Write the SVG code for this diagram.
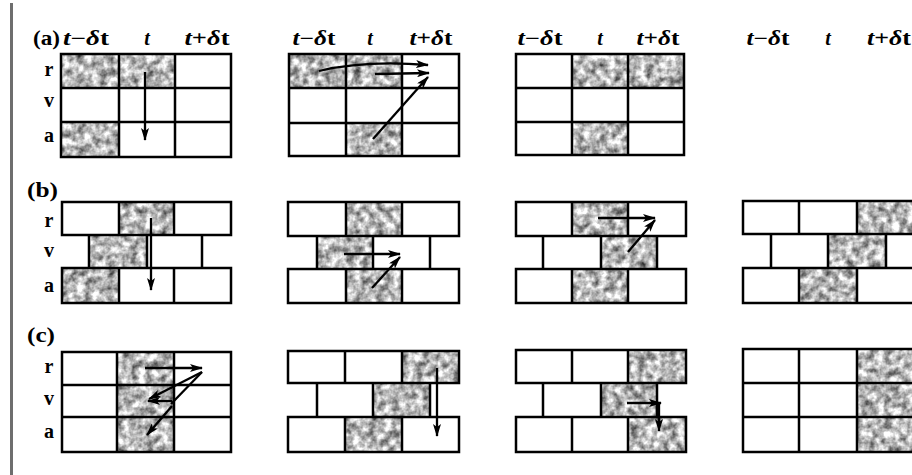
<svg xmlns="http://www.w3.org/2000/svg" width="912" height="475" viewBox="0 0 912 475">
<style>
.g{stroke:#000;stroke-width:2.5;fill:none;stroke-linecap:square}
.s{filter:url(#mottle)}
.h{font-family:"Liberation Serif",serif;font-size:20px;font-weight:bold;fill:#000;text-anchor:middle}
.l{font-family:"Liberation Serif",serif;font-size:20px;font-weight:bold;fill:#000}
.ar{stroke:#000;stroke-width:2.3;fill:none;marker-end:url(#ah)}
.ln{stroke:#000;stroke-width:2.3;fill:none}
</style>
<defs>
<filter id="mottle" x="0" y="0" width="100%" height="100%" color-interpolation-filters="sRGB">
<feTurbulence type="fractalNoise" baseFrequency="0.13" numOctaves="3" seed="4" result="n"/>
<feColorMatrix in="n" type="matrix" values="1.25 0 0 0 0.1  1.25 0 0 0 0.1  1.25 0 0 0 0.1  0 0 0 0 1"/>
</filter>
<marker id="ah" markerUnits="userSpaceOnUse" markerWidth="13" markerHeight="8" refX="12" refY="4" orient="auto">
<path d="M0,0 L13,4 L0,8 L3,4 z" fill="#000"/>
</marker>
</defs>
<rect width="912" height="475" fill="#fff"/>
<rect x="10" y="3" width="3" height="472" fill="#6e6e6e"/>

<g id="headers">
<text class="l" x="33" y="45" textLength="27" lengthAdjust="spacingAndGlyphs">(a)</text>
<text class="h" x="86" y="45" textLength="46" lengthAdjust="spacingAndGlyphs"><tspan font-style="italic">t</tspan>−<tspan font-style="italic">δ</tspan>t</text>
<text class="h" x="147" y="45" font-style="italic">t</text>
<text class="h" x="207" y="45" textLength="45" lengthAdjust="spacingAndGlyphs"><tspan font-style="italic">t</tspan>+<tspan font-style="italic">δ</tspan>t</text>
<text class="h" x="314" y="45" textLength="43" lengthAdjust="spacingAndGlyphs"><tspan font-style="italic">t</tspan>−<tspan font-style="italic">δ</tspan>t</text>
<text class="h" x="370" y="45" font-style="italic">t</text>
<text class="h" x="431" y="45" textLength="43" lengthAdjust="spacingAndGlyphs"><tspan font-style="italic">t</tspan>+<tspan font-style="italic">δ</tspan>t</text>
<text class="h" x="540" y="45" textLength="45" lengthAdjust="spacingAndGlyphs"><tspan font-style="italic">t</tspan>−<tspan font-style="italic">δ</tspan>t</text>
<text class="h" x="600" y="45" font-style="italic">t</text>
<text class="h" x="658" y="45" textLength="43" lengthAdjust="spacingAndGlyphs"><tspan font-style="italic">t</tspan>+<tspan font-style="italic">δ</tspan>t</text>
<text class="h" x="768" y="45" textLength="43" lengthAdjust="spacingAndGlyphs"><tspan font-style="italic">t</tspan>−<tspan font-style="italic">δ</tspan>t</text>
<text class="h" x="828" y="45" font-style="italic">t</text>
<text class="h" x="889" y="45" textLength="44" lengthAdjust="spacingAndGlyphs"><tspan font-style="italic">t</tspan>+<tspan font-style="italic">δ</tspan>t</text>
<text class="l" x="27" y="197" textLength="31" lengthAdjust="spacingAndGlyphs">(b)</text>
<text class="l" x="27" y="342" textLength="28" lengthAdjust="spacingAndGlyphs">(c)</text>
</g>

<g id="rowlabels">
<text class="h" x="49" y="76">r</text><text class="h" x="49" y="107">v</text><text class="h" x="49" y="142">a</text>
<text class="h" x="49" y="227">r</text><text class="h" x="49" y="257">v</text><text class="h" x="49" y="292">a</text>
<text class="h" x="49" y="373">r</text><text class="h" x="49" y="405">v</text><text class="h" x="49" y="438">a</text>
</g>

<g id="grid-a1">
<rect class="s" x="61" y="54" width="58" height="34"/>
<rect class="s" x="119" y="54" width="56" height="34"/>
<rect class="s" x="61" y="122" width="58" height="35"/>
<path class="g" d="M61,54H231V157H61Z M61,88H231 M61,122H231 M119,54V157 M175,54V157"/>
</g>
<g id="grid-a2">
<rect class="s" x="289" y="54" width="57" height="34"/>
<rect class="s" x="346" y="54" width="56" height="34"/>
<rect class="s" x="346" y="123" width="56" height="33"/>
<path class="g" d="M289,54H459V156H289Z M289,88H459 M289,123H459 M346,54V156 M402,54V156"/>
</g>
<g id="grid-a3">
<rect class="s" x="572" y="54" width="56" height="34"/>
<rect class="s" x="628" y="54" width="56" height="34"/>
<rect class="s" x="572" y="122" width="56" height="33"/>
<path class="g" d="M516,54H684V155H516Z M516,88H684 M516,122H684 M572,54V155 M628,54V155"/>
</g>

<g id="grid-b1">
<rect class="s" x="119" y="202" width="55" height="33"/>
<rect class="s" x="89" y="235" width="58" height="33"/>
<rect class="s" x="62" y="268" width="57" height="35"/>
<path class="g" d="M62,202H231V235H62Z M62,268H231V303H62Z M119,202V235 M174,202V235 M119,268V303 M174,268V303 M89,235V268 M147,235V268 M202,235V268"/>
</g>
<g id="grid-b2">
<rect class="s" x="346" y="202" width="56" height="34"/>
<rect class="s" x="317" y="236" width="56" height="33"/>
<rect class="s" x="346" y="269" width="56" height="34"/>
<path class="g" d="M288,202H459V236H288Z M288,269H459V303H288Z M346,202V236 M402,202V236 M346,269V303 M402,269V303 M317,236V269 M373,236V269 M430,236V269"/>
</g>
<g id="grid-b3">
<rect class="s" x="572" y="202" width="56" height="34"/>
<rect class="s" x="601" y="236" width="56" height="33"/>
<rect class="s" x="572" y="269" width="56" height="34"/>
<path class="g" d="M516,202H686V236H516Z M516,269H686V303H516Z M572,202V236 M628,202V236 M572,269V303 M628,269V303 M543,236V269 M601,236V269 M657,236V269"/>
</g>
<g id="grid-b4">
<rect class="s" x="857" y="201" width="58" height="33"/>
<rect class="s" x="828" y="234" width="58" height="34"/>
<rect class="s" x="799" y="268" width="58" height="35"/>
<path class="g" d="M916,201H743V234H916 M916,268H743V303H916 M799,201V234 M857,201V234 M799,268V303 M857,268V303 M771,234V268 M828,234V268 M886,234V268"/>
</g>

<g id="grid-c1">
<rect class="s" x="117" y="352" width="57" height="100"/>
<path class="g" d="M62,352H231V452H62Z M62,385H231 M62,417H231 M117,352V452 M174,352V452"/>
</g>
<g id="grid-c2">
<rect class="s" x="402" y="351" width="57" height="32"/>
<rect class="s" x="373" y="383" width="57" height="34"/>
<rect class="s" x="345" y="417" width="57" height="35"/>
<path class="g" d="M288,351H459V383H288Z M288,417H459V452H288Z M345,351V383 M402,351V383 M345,417V452 M402,417V452 M317,383V417 M373,383V417 M430,383V417"/>
</g>
<g id="grid-c3">
<rect class="s" x="628" y="350" width="58" height="33"/>
<rect class="s" x="601" y="383" width="56" height="34"/>
<rect class="s" x="628" y="417" width="58" height="35"/>
<path class="g" d="M516,350H686V383H516Z M516,417H686V452H516Z M572,350V383 M628,350V383 M572,417V452 M628,417V452 M543,383V417 M601,383V417 M657,383V417"/>
</g>
<g id="grid-c4">
<rect class="s" x="857" y="349" width="58" height="103"/>
<path class="g" d="M916,349H743V452H916 M743,383H916 M743,417H916 M799,349V452 M857,349V452"/>
</g>

<g id="connectors">
<path class="ar" d="M145,72V140"/>
<path class="ar" d="M319,71Q365,60 428,65"/>
<path class="ar" d="M375,74L429,73"/>
<path class="ar" d="M373,139L428,77"/>
<path class="ar" d="M151,218V290"/>
<path class="ar" d="M344,254H400"/>
<path class="ar" d="M372,288L400,257"/>
<path class="ar" d="M598,218H655"/>
<path class="ar" d="M628,252L655,220"/>
<path class="ar" d="M145,368H202"/>
<path class="ar" d="M202,372L149,399"/>
<path class="ar" d="M172,401H148"/>
<path class="ln" d="M171,404L202,372"/>
<path class="ar" d="M172,406L147,435"/>
<path class="ar" d="M437,368V436"/>
<path class="ar" d="M627,403H661"/>
<path class="ar" d="M659,404V431"/>
</g>
</svg>
